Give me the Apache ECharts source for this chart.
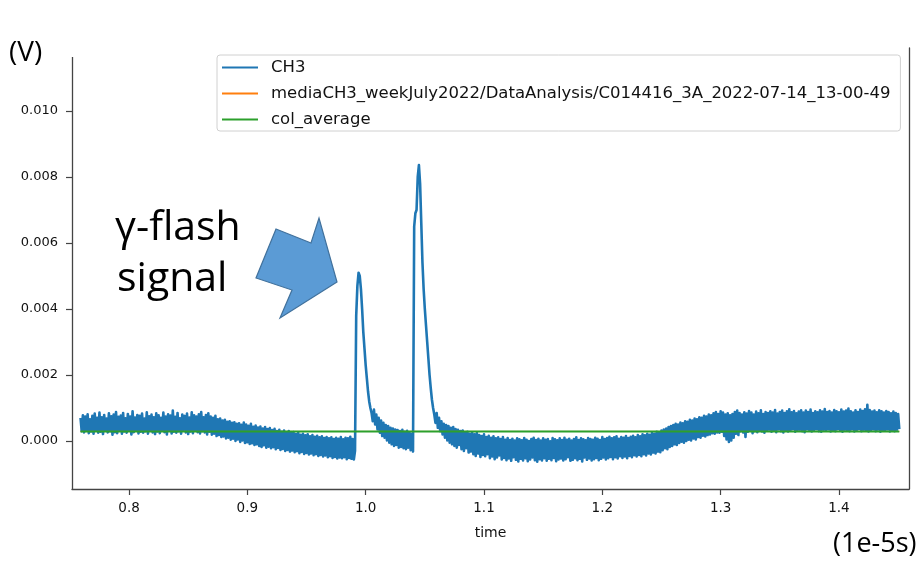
<!DOCTYPE html>
<html>
<head>
<meta charset="utf-8">
<script src="https://cdn.jsdelivr.net/npm/echarts@6/dist/echarts.min.js"></script>
<style>
html,body{margin:0;padding:0;background:#fff;}
#chart{width:923px;height:566px;}
</style>
</head>
<body>
<div id="chart"></div>
<script>
// ---- data (time in units of 1e-5 s, voltage in mV) ----
const tStart = 0.759;      // first sample time
const tStep = 0.001;       // sample spacing
const ch3_mV = [
 // 0.759 - 0.868 : upper noisy band
 0.70, 0.30, 0.78, 0.26, 0.74, 0.33, 0.81, 0.24, 0.66, 0.29,
 0.76, 0.22, 0.83, 0.31, 0.70, 0.25, 0.86, 0.28, 0.72, 0.21,
 0.79, 0.32, 0.68, 0.26, 0.84, 0.30, 0.75, 0.19, 0.80, 0.27,
 0.88, 0.24, 0.73, 0.33, 0.77, 0.22, 0.85, 0.29, 0.69, 0.25,
 0.82, 0.31, 0.74, 0.20, 0.90, 0.27, 0.71, 0.34, 0.79, 0.23,
 0.76, 0.28, 0.83, 0.25, 0.68, 0.30, 0.87, 0.22, 0.75, 0.32,
 0.80, 0.26, 0.72, 0.21, 0.84, 0.29, 0.78, 0.24, 0.70, 0.33,
 0.86, 0.27, 0.74, 0.20, 0.81, 0.31, 0.77, 0.23, 0.92, 0.28,
 0.73, 0.25, 0.85, 0.30, 0.69, 0.22, 0.80, 0.34, 0.76, 0.26,
 0.83, 0.21, 0.71, 0.29, 0.87, 0.24, 0.78, 0.32, 0.74, 0.27,
 0.81, 0.23, 0.88, 0.30, 0.72, 0.26, 0.79, 0.20, 0.84, 0.28,
 // 0.869 - 0.990 : slow drift down
 0.74, 0.19, 0.70, 0.22, 0.76, 0.15, 0.66, 0.18, 0.68, 0.12,
 0.62, 0.14, 0.64, 0.08, 0.58, 0.10, 0.60, 0.04, 0.55, 0.07,
 0.57, 0.00, 0.52, 0.05, 0.54, -0.03, 0.49, 0.02, 0.56, -0.06,
 0.50, -0.04, 0.46, -0.09, 0.52, -0.07, 0.43, -0.12, 0.47, -0.10,
 0.41, -0.15, 0.44, -0.18, 0.38, -0.13, 0.42, -0.20, 0.36, -0.17,
 0.39, -0.22, 0.33, -0.19, 0.37, -0.25, 0.30, -0.21, 0.34, -0.27,
 0.28, -0.24, 0.32, -0.30, 0.26, -0.27, 0.30, -0.32, 0.24, -0.29,
 0.27, -0.34, 0.21, -0.31, 0.25, -0.37, 0.19, -0.33, 0.22, -0.39,
 0.17, -0.36, 0.20, -0.41, 0.14, -0.38, 0.18, -0.43, 0.13, -0.40,
 0.16, -0.45, 0.11, -0.42, 0.14, -0.47, 0.09, -0.44, 0.12, -0.49,
 0.08, -0.46, 0.11, -0.51, 0.06, -0.48, 0.10, -0.53, 0.07, -0.50,
 0.12, -0.52, 0.05, -0.49, 0.10, -0.55, 0.08, -0.51, 0.13, -0.54,
 0.06, -0.56,
 // 0.991 - 1.040 : first pulse and gap
 -0.30, 3.80, 4.70, 5.10, 5.00, 4.60, 4.00, 3.30, 2.80, 2.30,
 1.90, 1.50, 1.20, 1.00, 0.85, 0.60, 0.95, 0.50, 0.80, 0.35,
 0.70, 0.25, 0.62, 0.15, 0.55, 0.10, 0.48, 0.02, 0.45, -0.05,
 0.40, -0.10, 0.38, -0.15, 0.35, -0.12, 0.33, -0.20, 0.30, -0.18,
 0.34, -0.22, 0.28, -0.25, 0.31, -0.20, 0.26, -0.28, 0.22, -0.32,
 // 1.041 - 1.060 : second pulse
 6.50, 6.90, 7.00, 8.00, 8.36, 7.80, 6.60, 5.40, 4.60, 4.00,
 3.50, 3.00, 2.50, 2.00, 1.60, 1.25, 1.00, 0.80, 0.55, 0.85,
 // 1.061 - 1.249 : tail and lower band
 0.40, 0.70, 0.30, 0.60, 0.20, 0.52, 0.10, 0.48, 0.02, 0.45,
 -0.05, 0.40, -0.10, 0.42, -0.15, 0.36, -0.20, 0.34, -0.12, 0.30,
 -0.25, 0.32, -0.30, 0.26, -0.22, 0.28, -0.35, 0.22, -0.32, 0.25,
 -0.40, 0.20, -0.45, 0.24, -0.38, 0.18, -0.48, 0.15, -0.42, 0.20,
 -0.46, 0.12, -0.40, 0.16, -0.52, 0.10, -0.47, 0.14, -0.55, 0.08,
 -0.50, 0.11, -0.44, 0.06, -0.56, 0.12, -0.51, 0.04, -0.58, 0.09,
 -0.53, 0.03, -0.60, 0.07, -0.49, 0.01, -0.57, 0.08, -0.62, 0.05,
 -0.54, 0.02, -0.59, 0.09, -0.52, 0.04, -0.61, 0.00, -0.56, 0.06,
 -0.50, 0.10, -0.58, 0.03, -0.63, 0.07, -0.55, 0.01, -0.59, 0.08,
 -0.52, 0.04, -0.60, 0.06, -0.54, -0.01, -0.58, 0.09, -0.51, 0.05,
 -0.61, 0.02, -0.56, 0.08, -0.53, 0.03, -0.59, 0.10, -0.55, 0.04,
 -0.49, 0.07, -0.60, 0.01, -0.57, 0.06, -0.52, 0.11, -0.58, 0.03,
 -0.54, 0.08, -0.62, 0.05, -0.50, 0.02, -0.57, 0.09, -0.53, 0.06,
 -0.59, 0.04, -0.55, 0.10, -0.51, 0.07, -0.58, 0.03, -0.54, 0.12,
 -0.50, 0.06, -0.56, 0.09, -0.52, 0.13, -0.48, 0.08, -0.55, 0.11,
 -0.49, 0.14, -0.53, 0.07, -0.46, 0.12, -0.51, 0.10, -0.47, 0.15,
 -0.52, 0.09, -0.45, 0.13, -0.49, 0.16, -0.43, 0.11, -0.47, 0.18,
 -0.42, 0.14, -0.46, 0.20, -0.40, 0.17, -0.44, 0.22, -0.38, 0.19,
 -0.41, 0.25, -0.35, 0.22, -0.38, 0.28, -0.32, 0.26, -0.34,
 // 1.250 - 1.299 : rise
 0.32, -0.28, 0.35, -0.22, 0.38, -0.25, 0.42, -0.18, 0.45, -0.15,
 0.48, -0.10, 0.52, -0.12, 0.50, -0.06, 0.56, -0.02, 0.54, -0.05,
 0.60, 0.00, 0.58, 0.04, 0.64, 0.02, 0.62, 0.08, 0.68, 0.05,
 0.66, 0.12, 0.72, 0.10, 0.70, 0.16, 0.76, 0.14, 0.74, 0.18,
 0.80, 0.20, 0.78, 0.24, 0.84, 0.22, 0.88, 0.26, 0.82, 0.25,
 // 1.300 - 1.451 : upper band
 0.90, 0.28, 0.86, 0.15, 0.80, 0.05, 0.84, -0.03, 0.78, 0.02,
 0.82, 0.10, 0.88, 0.22, 0.92, 0.18, 0.85, 0.30, 0.80, 0.26,
 0.87, 0.12, 0.83, 0.28, 0.91, 0.32, 0.86, 0.24, 0.80, 0.30,
 0.89, 0.27, 0.84, 0.33, 0.93, 0.29, 0.82, 0.25, 0.88, 0.31,
 0.85, 0.34, 0.90, 0.28, 0.86, 0.32, 0.94, 0.27, 0.83, 0.35,
 0.88, 0.30, 0.92, 0.26, 0.85, 0.33, 0.90, 0.29, 0.96, 0.31,
 0.87, 0.36, 0.91, 0.28, 0.84, 0.32, 0.89, 0.34, 0.93, 0.30,
 0.86, 0.27, 0.92, 0.35, 0.88, 0.31, 0.95, 0.29, 0.85, 0.33,
 0.90, 0.36, 0.87, 0.30, 0.93, 0.28, 0.89, 0.34, 0.97, 0.31,
 0.88, 0.35, 0.91, 0.29, 0.86, 0.33, 0.94, 0.30, 0.90, 0.36,
 0.87, 0.32, 0.95, 0.28, 0.89, 0.34, 0.92, 0.31, 0.98, 0.30,
 0.90, 0.35, 0.86, 0.29, 0.93, 0.33, 0.88, 0.36, 0.95, 0.30,
 0.91, 0.34, 0.96, 0.31, 1.10, 0.29, 0.94, 0.33, 0.89, 0.35,
 0.92, 0.30, 0.87, 0.34, 0.93, 0.28, 0.90, 0.33, 0.86, 0.31,
 0.91, 0.35, 0.88, 0.29, 0.84, 0.32, 0.89, 0.30, 0.85, 0.34,
 0.82, 0.36
];
const colAverage_mV = 0.29;
const mediaValue_mV = 0.29;
const seriesNames = ['CH3', 'mediaCH3_weekJuly2022/DataAnalysis/C014416_3A_2022-07-14_13-00-49', 'col_average'];
const xTicks = [0.8, 0.9, 1.0, 1.1, 1.2, 1.3, 1.4];
const yTicks_mV = [0, 2, 4, 6, 8, 10];

// ---- build ----
const ch3Data = ch3_mV.map((v, i) => [+(tStart + i * tStep).toFixed(4), v]);
const tEnd = ch3Data[ch3Data.length - 1][0];
const mediaData = [[tStart, mediaValue_mV], [tEnd, mediaValue_mV]];
const avgData = [[tStart, colAverage_mV], [tEnd, colAverage_mV]];

const FONT = 'DejaVu Sans';
const chart = echarts.init(document.getElementById('chart'), null, {renderer: 'canvas'});
chart.setOption({
  animation: false,
  backgroundColor: '#fff',
  grid: {left: 72, right: 14, top: 48, bottom: 77, containLabel: false},
  legend: {
    left: 217, top: 55, orient: 'vertical',
    itemWidth: 36, itemHeight: 16, itemGap: 9,
    padding: [4, 10, 3, 5],
    backgroundColor: 'rgba(255,255,255,0.85)',
    borderColor: '#d0d0d0', borderWidth: 1, borderRadius: 3,
    textStyle: {fontFamily: FONT, fontSize: 16.5, color: '#111', padding: [0, 0, 0, 8]},
    data: seriesNames.map(n => ({name: n, icon: 'path://M0,0 L36,0 L36,2 L0,2 Z'}))
  },
  xAxis: {
    type: 'value', min: 0.7518, max: 1.4592,
    name: 'time', nameLocation: 'middle', nameGap: 37,
    nameTextStyle: {fontFamily: FONT, fontSize: 14, color: '#111'},
    axisLine: {show: true, onZero: false, lineStyle: {color: '#444', width: 1.3}},
    axisTick: {show: true, length: 6, customValues: xTicks, lineStyle: {color: '#444', width: 1.2}},
    axisLabel: {customValues: xTicks, margin: 12, fontFamily: FONT, fontSize: 13.5, color: '#111',
      formatter: v => v.toFixed(1)},
    splitLine: {show: false}
  },
  yAxis: [{
    type: 'value', min: -1.4545, max: 11.909,
    axisLine: {show: true, onZero: false, lineStyle: {color: '#444', width: 1.3}},
    axisTick: {show: true, length: 6, customValues: yTicks_mV, lineStyle: {color: '#444', width: 1.2}},
    axisLabel: {customValues: yTicks_mV, margin: 14, fontFamily: FONT, fontSize: 13, color: '#111',
      formatter: v => (v / 1000).toFixed(3)},
    splitLine: {show: false}
  }, {
    type: 'value', position: 'right', min: -1.4545, max: 11.909,
    axisLine: {show: true, onZero: false, lineStyle: {color: '#444', width: 1.3}},
    axisTick: {show: false}, axisLabel: {show: false}, splitLine: {show: false}
  }],
  series: [
    {name: seriesNames[0], type: 'line', data: ch3Data, showSymbol: false, symbol: 'none', sampling: null,
     lineStyle: {color: '#1f77b4', width: 2.6, join: 'round'}, itemStyle: {color: '#1f77b4'}, z: 2},
    {name: seriesNames[1], type: 'line', data: mediaData, showSymbol: false, symbol: 'none',
     lineStyle: {color: '#ff7f0e', width: 1}, itemStyle: {color: '#ff7f0e'}, z: 3},
    {name: seriesNames[2], type: 'line', data: avgData, showSymbol: false, symbol: 'none',
     lineStyle: {color: '#2ca02c', width: 2}, itemStyle: {color: '#2ca02c'}, z: 4}
  ],
  graphic: [
    {type: 'rect', left: 64, top: 42, shape: {width: 16, height: 15}, style: {fill: '#fff'}, z: 100},
    {type: 'text', left: 9, top: 39, style: {text: '(V)', font: '28px "Open Sans"', fill: '#000'}, z: 101},
    {type: 'text', left: 833, top: 531, style: {text: '(1e-5s)', font: '27px "Open Sans"', fill: '#000'}, z: 101},
    {type: 'text', left: 115, top: 208, style: {text: 'γ-flash', font: '41px "Open Sans"', fill: '#000'}, z: 101},
    {type: 'text', left: 117, top: 259, style: {text: 'signal', font: '41px "Open Sans"', fill: '#000'}, z: 101},
    {type: 'polygon', z: 101,
     shape: {points: [[276, 229], [311, 243], [319, 218], [337, 282], [280, 318], [292, 290], [256, 278]]},
     style: {fill: '#5b9bd5', stroke: '#41719c', lineWidth: 1.2}}
  ]
});
</script>
</body>
</html>
